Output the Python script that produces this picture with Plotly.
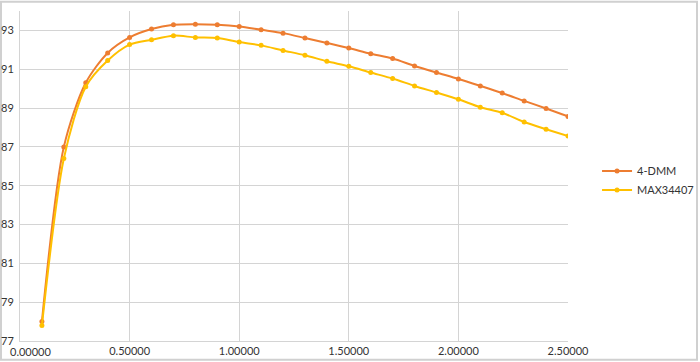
import plotly.graph_objects as go

x_vals = [0.1, 0.2, 0.3, 0.4, 0.5, 0.6, 0.7, 0.8, 0.9, 1.0, 1.1, 1.2, 1.3, 1.4, 1.5,
          1.6, 1.7, 1.8, 1.9, 2.0, 2.1, 2.2, 2.3, 2.4, 2.5]
dmm_vals = [78.0, 87.0, 90.3, 91.84, 92.64, 93.07, 93.29, 93.32, 93.29, 93.2, 93.03, 92.86,
            92.61, 92.35, 92.09, 91.80, 91.55, 91.17, 90.83, 90.50, 90.14, 89.77, 89.37, 88.98, 88.57]
max_vals = [77.8, 86.4, 90.1, 91.45, 92.27, 92.52, 92.73, 92.64, 92.61, 92.4, 92.23, 91.97,
            91.72, 91.41, 91.15, 90.83, 90.52, 90.14, 89.80, 89.45, 89.04, 88.76, 88.28, 87.91, 87.56]
series_names = ["4-DMM", "MAX34407"]
x_ticks = [0.0, 0.5, 1.0, 1.5, 2.0, 2.5]
x_tick_labels = ["0.00000", "0.50000", "1.00000", "1.50000", "2.00000", "2.50000"]
y_ticks = [77, 79, 81, 83, 85, 87, 89, 91, 93]

fig = go.Figure()
for name, vals, col in [(series_names[0], dmm_vals, "#ED7D31"), (series_names[1], max_vals, "#FFC000")]:
    fig.add_trace(go.Scatter(x=x_vals, y=vals, name=name, mode="lines+markers",
                             line=dict(color=col, width=2, shape="spline", smoothing=0.8),
                             marker=dict(color=col, size=5)))

grid = "#d4d4d4"
font_fam = "Lato, Open Sans, sans-serif"
fig.update_layout(
    width=700, height=362,
    margin=dict(l=20, r=132, t=10.5, b=20.7, autoexpand=False),
    paper_bgcolor="white", plot_bgcolor="white",
    font=dict(family=font_fam, size=11, color="#333333"),
    showlegend=True,
    legend=dict(x=1.053, y=0.486, xanchor="left", yanchor="middle",
                font=dict(size=11, color="#333333"), bgcolor="rgba(0,0,0,0)",
                tracegroupgap=0, itemwidth=30),
    xaxis=dict(range=[0, 2.5], tickvals=x_ticks,
               ticktext=[""] + x_tick_labels[1:],
               showgrid=True, gridcolor=grid, gridwidth=1,
               showline=True, linecolor=grid, linewidth=1,
               zeroline=False, ticks="", ticklen=0, automargin=False),
    yaxis=dict(range=[77, 94], tickvals=y_ticks,
               showgrid=True, gridcolor=grid, gridwidth=1,
               showline=True, linecolor=grid, linewidth=1,
               zeroline=False, ticks="", ticklabelstandoff=3, automargin=False),
    annotations=[dict(x=x_ticks[0], xref="x", y=0, yref="paper", yanchor="top",
                      text=x_tick_labels[0], showarrow=False, xshift=10.5, yshift=-2,
                      font=dict(family=font_fam, size=11, color="#333333"))],
    shapes=[dict(type="rect", xref="paper", yref="paper",
                 x0=-0.0347, x1=1.2354, y0=-0.0565, y1=1.028,
                 line=dict(color="#d0d0d0", width=2), fillcolor="rgba(0,0,0,0)", layer="below")],
)
fig.write_html("out.html", config={"displayModeBar": False},
               post_script="document.body.style.margin='0';document.body.style.overflow='hidden';")
